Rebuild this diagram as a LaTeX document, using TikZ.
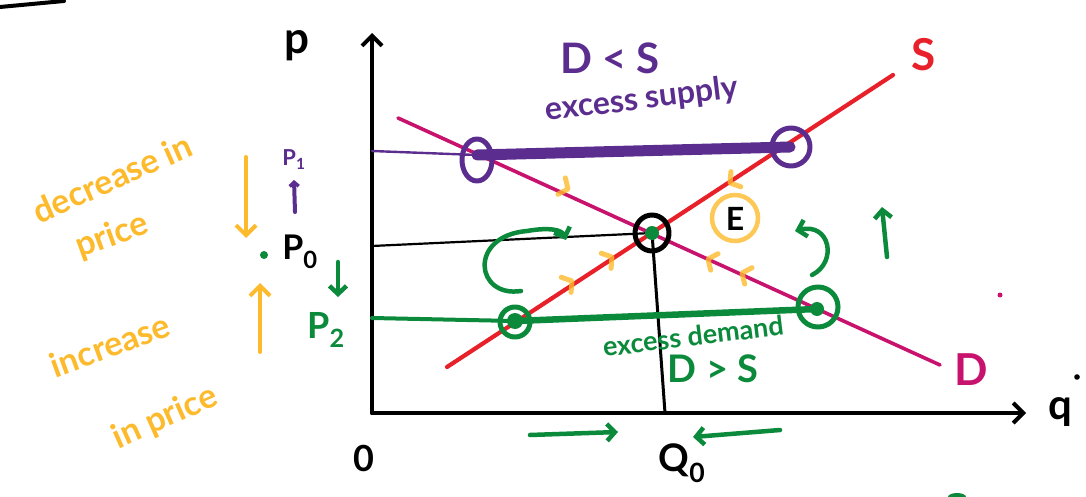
\documentclass[tikz,border=0pt]{standalone}
\usepackage{fontspec}
\setmainfont{Lato}
\usetikzlibrary{arrows.meta}
\definecolor{pur}{HTML}{5B2D8E}
\definecolor{grn}{HTML}{0B8A3B}
\definecolor{rd}{HTML}{E8202A}
\definecolor{mag}{HTML}{C8136E}
\definecolor{org}{HTML}{FDBA2C}
\tikzset{
  axisline/.style={line width=4pt, black, -{Straight Barb[length=10pt,width=20pt,line width=4pt]}},
  hand/.style={font=\bfseries\fontsize{#1}{#1}\selectfont, inner sep=0pt},
  garrow/.style={grn, line width=4.5pt, -{Straight Barb[length=8pt,width=17pt,line width=4.5pt]}},
  oarrow/.style={org, line width=4pt, -{Straight Barb[length=10pt,width=20pt,line width=4pt]}},
  chev/.pic={\draw[org, line width=5pt, opacity=0.8] (-7,-9) -- (0,0) -- (-7,9);}
}
\begin{document}
\begin{tikzpicture}[x=1pt,y=-1pt, line cap=round, line join=round]
\useasboundingbox (0,0) rectangle (1086,497);

% stray strokes at edges
\coordinate (tl0) at (0,7); \coordinate (tl1) at (64,1);
\draw[line width=4pt] (tl0) -- (tl1);
\fill[mag] (1000,295) circle (2.5pt);
\fill[black] (1077,377) circle (2.8pt);
\fill[grn] (957,497) ellipse (9pt and 4pt);

% axes
\coordinate (O) at (372,413);
\coordinate (Ytop) at (372,33);
\coordinate (Xend) at (1026,413);
\draw[axisline] (O) -- (Ytop);
\draw[axisline] (O) -- (Xend);
\node[hand=44] (lblP) at (297,46) {p};
\node[hand=42] (lblQ) at (1060,412) {q};
\node[hand=36] (lblO) at (364,458) {0};
\node[hand=38] (lblQ0) at (682,463) {Q\textsubscript{0}};

% supply and demand
\coordinate (S0) at (447,367); \coordinate (S1) at (893,75);
\coordinate (D0) at (398,118); \coordinate (D1) at (940,365);
\draw[rd, line width=4.2pt] (S0) -- (S1);
\draw[mag, line width=3.6pt] (D0) -- (D1);
\node[hand=44, text=rd] (lblS) at (924,55) {S};
\node[hand=44, text=mag] (lblD) at (971,370) {D};

% equilibrium
\coordinate (E) at (652,233);
\coordinate (P0y) at (372,246);
\coordinate (Q0x) at (665,413);
\draw[line width=2.2pt] (P0y) -- (E);
\draw[line width=3pt] (E) -- (Q0x);
\draw[line width=5pt] (E) ellipse (17pt and 18pt);
\fill[grn] (E) circle (7pt);
\draw[org, line width=4.5pt, opacity=0.8] (735,218) circle (23pt);
\node[hand=32] (lblE) at (735,219) {E};

% excess supply (purple)
\coordinate (P1y) at (372,151);
\coordinate (A) at (477,155);
\coordinate (B) at (790,147);
\draw[pur, line width=2.4pt] (P1y) -- (A);
\draw[pur, line width=11pt] (A) -- (B);
\draw[pur, line width=5pt] (477,160) ellipse (15pt and 21pt);
\draw[pur, line width=5pt] (791,147) circle (19pt);
\node[hand=42, text=pur] (lblDS) at (610,58) {D < S};
\node[hand=32, text=pur, rotate=7] (lblES) at (642,100) {excess supply};
\node[hand=22, text=pur] (lblP1) at (294,160) {P\textsubscript{1}};
\coordinate (p1a) at (295,212); \coordinate (p1b) at (294,180);
\draw[pur, line width=4pt, -{Straight Barb[length=4pt,width=9pt,line width=3.5pt]}] (p1a) -- (p1b);

% excess demand (green)
\coordinate (P2y) at (372,318);
\coordinate (C) at (515,321);
\coordinate (F) at (817,309);
\draw[grn, line width=4pt] (P2y) -- (C);
\draw[grn, line width=6.5pt] (C) -- (F);
\fill[grn] (C) circle (8pt);
\fill[grn] (F) circle (7pt);
\draw[grn, line width=5pt] (515,322) circle (15pt);
\draw[grn, line width=5pt] (818,307) circle (20pt);
\node[hand=27, text=grn, rotate=7] (lblED) at (693,336) {excess demand};
\node[hand=38, text=grn] (lblDgS) at (713,369) {D > S};
\node[hand=36, text=grn] (lblP2) at (326,330) {P\textsubscript{2}};

% price labels
\node[hand=34] (lblP0) at (300,252) {P\textsubscript{0}};
\fill[grn] (264,255) circle (4pt);
\coordinate (g1a) at (338,262); \coordinate (g1b) at (338,297);
\draw[garrow] (g1a) -- (g1b);

% orange arrows and text
\coordinate (o1a) at (246,157); \coordinate (o1b) at (246,238);
\coordinate (o2a) at (260,352); \coordinate (o2b) at (260,283);
\draw[oarrow] (o1a) -- (o1b);
\draw[oarrow] (o2a) -- (o2b);
\node[hand=34, text=org, rotate=24] (lblDec) at (112,178) {decrease in};
\node[hand=34, text=org, rotate=20] (lblDecP) at (112,236) {price};
\node[hand=34, text=org, rotate=20] (lblInc) at (110,345) {increase};
\node[hand=34, text=org, rotate=24] (lblIncP) at (165,418) {in price};

% orange chevrons along curves
\pic[rotate=33] at (572,281) {chev};
\pic[rotate=33] at (612,257) {chev};
\pic[rotate=-24.5] at (568,189) {chev};
\pic[rotate=213] at (730,183) {chev};
\pic[rotate=155.5] at (708,259) {chev};
\pic[rotate=155.5] at (742,273) {chev};

% green curved arrows
\coordinate (c1a) at (521,291); \coordinate (c1m) at (527,231); \coordinate (c1b) at (566,240);
\draw[garrow] (c1a) .. controls (475,298) and (468,236) .. (c1m) .. controls (550,227) and (562,230) .. (c1b);
\coordinate (c2a) at (812,275); \coordinate (c2b) at (795,231);
\draw[garrow] (c2a) .. controls (838,262) and (830,222) .. (c2b);
\coordinate (g2a) at (887,257); \coordinate (g2b) at (882,207);
\draw[garrow] (g2a) -- (g2b);

% green quantity arrows
\coordinate (qa1) at (530,435); \coordinate (qb1) at (618,432);
\coordinate (qa2) at (780,430); \coordinate (qb2) at (693,437);
\draw[garrow] (qa1) -- (qb1);
\draw[garrow] (qa2) -- (qb2);
\end{tikzpicture}
\end{document}
